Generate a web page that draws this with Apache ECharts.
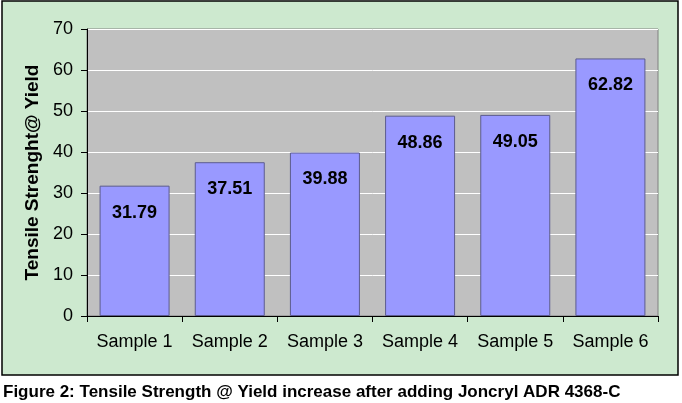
<!DOCTYPE html>
<html>
<head>
<meta charset="utf-8">
<script src="https://cdn.jsdelivr.net/npm/echarts@6/dist/echarts.min.js"></script>
<style>html,body{margin:0;padding:0;background:#fff;}#c{width:682px;height:403px;}</style>
</head>
<body>
<div id="c"></div>
<script>
const categories = ['Sample 1', 'Sample 2', 'Sample 3', 'Sample 4', 'Sample 5', 'Sample 6'];
const values = [31.79, 37.51, 39.88, 48.86, 49.05, 62.82];
const yTicks = [0, 10, 20, 30, 40, 50, 60, 70];
const yAxisName = 'Tensile Strenght@ Yield';
const caption = 'Figure 2: Tensile Strength @ Yield increase after adding Joncryl ADR 4368-C';

const chart = echarts.init(document.getElementById('c'), null, {renderer: 'canvas'});
chart.setOption({
  backgroundColor: '#ffffff',
  animation: false,
  textStyle: {fontFamily: 'Liberation Sans, Arial, sans-serif'},
  graphic: [
    {type: 'rect', z: -10, shape: {x: 2, y: 1, width: 676, height: 374},
     style: {fill: '#CDE9CF', stroke: '#000000', lineWidth: 1.5}},
    {type: 'text', left: 3, top: 384,
     style: {text: caption, fill: '#000', font: 'bold 17px "Liberation Sans", Arial, sans-serif'}}
  ],
  grid: {left: 87, top: 29, width: 571, height: 287, show: true,
         backgroundColor: '#C0C0C0', borderColor: '#808080', borderWidth: 1},
  xAxis: {
    type: 'category', data: categories,
    axisLine: {show: true, lineStyle: {color: '#000', width: 1}},
    axisTick: {show: true, alignWithLabel: false, interval: 0, length: 6, lineStyle: {color: '#000'}},
    axisLabel: {fontSize: 18, color: '#000', margin: 17, interval: 0, hideOverlap: false}
  },
  yAxis: {
    type: 'value', min: yTicks[0], max: yTicks[yTicks.length - 1], interval: 10,
    name: yAxisName, nameLocation: 'middle', nameGap: 44, nameRotate: 90,
    nameTextStyle: {fontSize: 19, fontWeight: 'bold', color: '#000'},
    axisLine: {show: true, lineStyle: {color: '#000', width: 1}},
    axisTick: {show: true, length: 6, lineStyle: {color: '#000'}},
    axisLabel: {fontSize: 18, color: '#000', margin: 14},
    splitLine: {show: true, lineStyle: {color: '#ffffff', width: 1}}
  },
  series: [{
    type: 'bar', data: values, barWidth: 70,
    itemStyle: {color: '#9999FF', borderColor: '#5C5C8E', borderWidth: 1},
    label: {show: true, position: 'insideTop', distance: 18, fontSize: 18,
            fontWeight: 'bold', color: '#000',
            formatter: p => p.value.toFixed(2)}
  }]
});
</script>
</body>
</html>
